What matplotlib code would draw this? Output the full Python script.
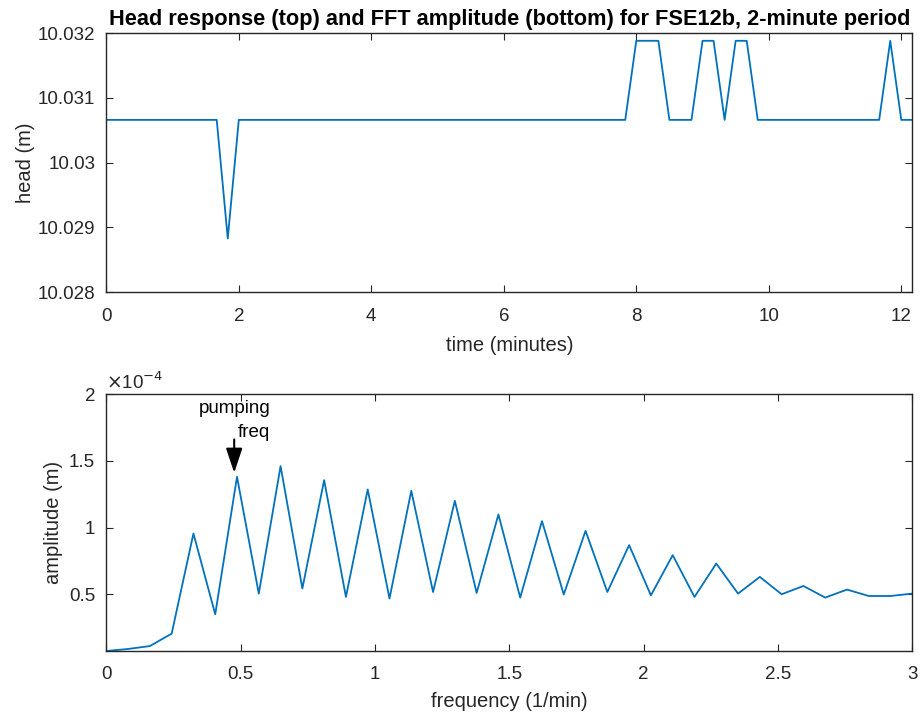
import numpy as np
import matplotlib
matplotlib.use("Agg")
import matplotlib.pyplot as plt
from matplotlib.ticker import FuncFormatter

# ---- data ----
dt_min = 1.0 / 6.0                     # sampling interval (minutes)
n_samples = 74
head_base = 10.03066
head_high = 10.03188
head_low = 10.02883
high_idx = [48, 49, 50, 54, 55, 57, 58, 71]
low_idx = [11]

amp_e4 = [0.075, 0.09, 0.112, 0.205, 0.955, 0.35, 1.38, 0.505, 1.46, 0.543,
          1.355, 0.48, 1.285, 0.468, 1.275, 0.517, 1.20, 0.51, 1.098, 0.475,
          1.048, 0.498, 0.975, 0.517, 0.868, 0.492, 0.793, 0.48, 0.73, 0.505,
          0.63, 0.50, 0.562, 0.475, 0.535, 0.487, 0.487, 0.505]   # x 1e-4 m

time_ticks = [0, 2, 4, 6, 8, 10, 12]
head_ticks = [10.028, 10.029, 10.030, 10.031, 10.032]
freq_ticks = [0, 0.5, 1, 1.5, 2, 2.5, 3]
amp_ticks = [0.5, 1, 1.5, 2]

head = [head_base] * n_samples
for i in high_idx:
    head[i] = head_high
for i in low_idx:
    head[i] = head_low
time = np.arange(n_samples) * dt_min
freq = np.arange(len(amp_e4)) / (n_samples * dt_min)

# ---- style ----
plt.rcParams['font.family'] = ['Liberation Sans', 'DejaVu Sans']
AX = '#262626'
LINE = '#0072BD'
fmt = FuncFormatter(lambda v, p: '%g' % round(v, 6))

fig = plt.figure(figsize=(9.22, 7.21), dpi=100)

def style(ax):
    for s in ax.spines.values():
        s.set_color(AX)
        s.set_linewidth(1.0)
    ax.tick_params(direction='in', top=True, right=True, colors=AX,
                   labelsize=13.5, length=5, width=0.8)
    ax.tick_params(axis='x', pad=11)
    ax.tick_params(axis='y', pad=8)

ax1 = fig.add_axes([0.1153, 0.5946, 0.8742, 0.3596])
ax1.plot(time, head, color=LINE, lw=1.3)
ax1.set_xlim(0, time[-1])
ax1.set_ylim(10.028, 10.032)
ax1.set_xticks(time_ticks)
ax1.set_yticks(head_ticks)
ax1.xaxis.set_major_formatter(fmt)
ax1.yaxis.set_major_formatter(fmt)
style(ax1)
ax1.set_xlabel('time (minutes)', fontsize=14.5, color=AX, labelpad=8)
ax1.set_ylabel('head (m)', fontsize=14.5, color=AX, labelpad=2)
ax1.set_title('Head response (top) and FFT amplitude (bottom) for FSE12b, 2-minute period',
              fontsize=15.7, fontweight='bold', color='black', pad=6)

ax2 = fig.add_axes([0.1153, 0.0971, 0.8742, 0.3564])
ax2.plot(freq, amp_e4, color=LINE, lw=1.3)
ax2.set_xlim(0, 3)
ax2.set_ylim(amp_e4[0], 2)
ax2.set_xticks(freq_ticks)
ax2.set_yticks(amp_ticks)
ax2.xaxis.set_major_formatter(fmt)
ax2.yaxis.set_major_formatter(fmt)
style(ax2)
ax2.set_xlabel('frequency (1/min)', fontsize=14.5, color=AX, labelpad=6)
ax2.set_ylabel('amplitude (m)', fontsize=14.5, color=AX, labelpad=4)
ax2.text(0.0, 1.005, r'$\times$10$^{-4}$', transform=ax2.transAxes,
         fontsize=13.5, color=AX, ha='left', va='bottom')

ax2.annotate('', xy=(0.476, 1.41), xytext=(0.476, 1.66),
             arrowprops=dict(arrowstyle='-|>,head_length=0.75,head_width=0.25',
                             color='black', lw=1.5, mutation_scale=20,
                             shrinkA=0, shrinkB=0))
ax2.text(0.61, 1.895, 'pumping', ha='right', va='center', fontsize=13.5, color='black')
ax2.text(0.61, 1.715, 'freq', ha='right', va='center', fontsize=13.5, color='black')

fig.savefig('out.png', dpi=100)
